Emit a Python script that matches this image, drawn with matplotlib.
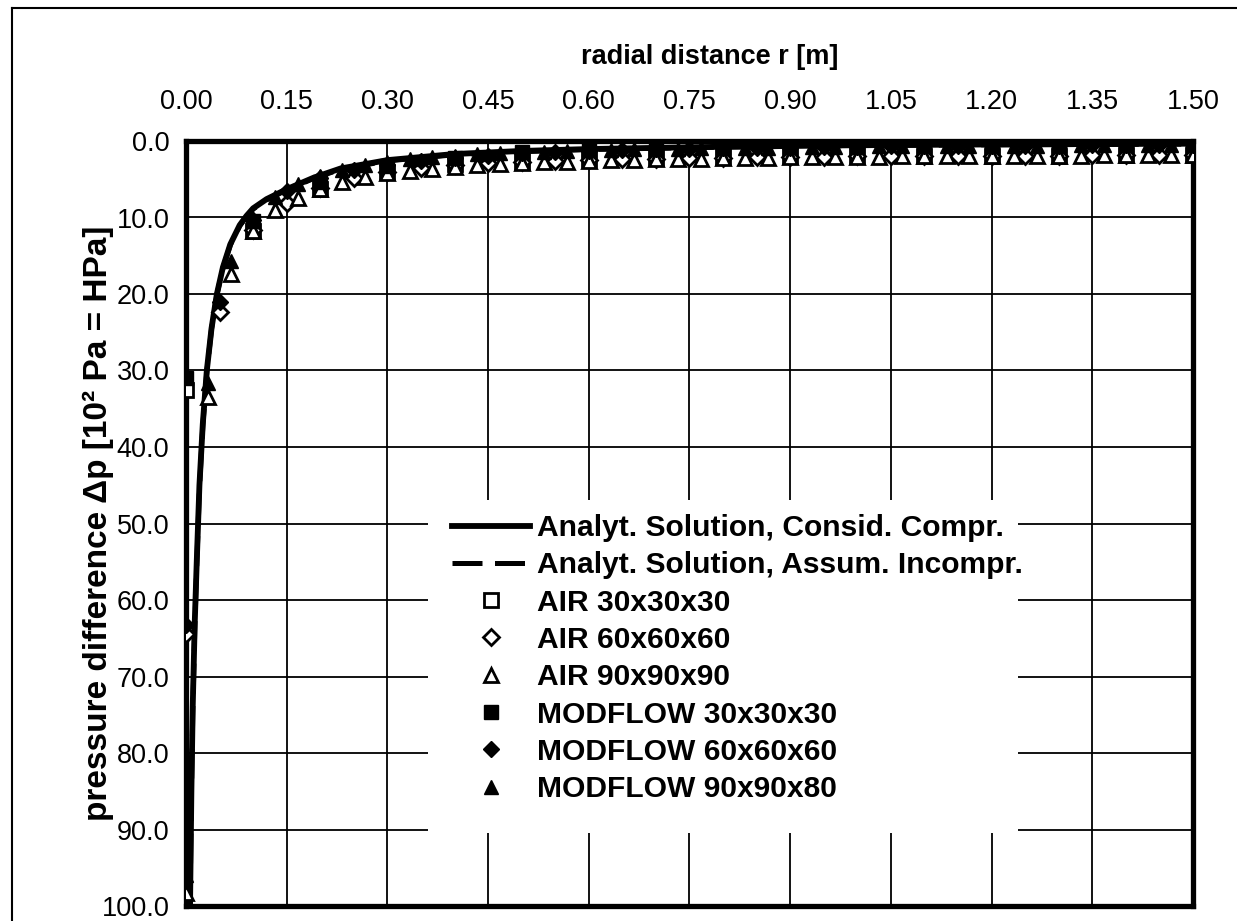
import matplotlib
matplotlib.use('Agg')
import matplotlib.pyplot as plt
from matplotlib.lines import Line2D
from matplotlib.patches import Rectangle

plt.rcParams['font.family'] = ['Liberation Sans', 'DejaVu Sans']

# analytical solutions
r_ana = [0.006, 0.008, 0.01, 0.013, 0.016, 0.02, 0.025, 0.031, 0.038, 0.046,
         0.055, 0.066, 0.08, 0.09, 0.1, 0.12, 0.15, 0.19, 0.23, 0.3,
         0.4, 0.5, 0.6, 0.7, 0.8, 0.9, 1.0, 1.2, 1.5]
dp_compr = [100.0, 85.0, 74.0, 63.0, 55.0, 45.0, 37.0, 30.0, 24.5, 20.0,
            16.5, 13.5, 11.0, 9.8, 8.8, 7.6, 6.3, 4.8, 3.6, 2.5,
            1.7, 1.3, 1.05, 0.9, 0.75, 0.65, 0.55, 0.45, 0.35]
dp_incompr = [100.0, 86.0, 75.0, 64.0, 55.5, 45.5, 37.3, 30.2, 24.6, 20.1,
              16.6, 13.6, 11.1, 9.9, 8.9, 7.7, 6.4, 4.9, 3.7, 2.6,
              1.8, 1.4, 1.1, 0.95, 0.8, 0.7, 0.6, 0.5, 0.4]

# cell centres of the three grids
r_30 = [0.0, 0.1, 0.2, 0.3, 0.4, 0.5, 0.6, 0.7, 0.8, 0.9, 1.0, 1.1, 1.2, 1.3, 1.4, 1.5]
r_60 = [0.0, 0.05, 0.1, 0.15, 0.2, 0.25, 0.3, 0.35, 0.4, 0.45, 0.5, 0.55, 0.6, 0.65,
        0.7, 0.75, 0.8, 0.85, 0.9, 0.95, 1.0, 1.05, 1.1, 1.15, 1.2, 1.25, 1.3, 1.35,
        1.4, 1.45, 1.5]
r_90 = [0.0, 0.033, 0.067, 0.1, 0.133, 0.167, 0.2, 0.233, 0.267, 0.3, 0.333, 0.367,
        0.4, 0.433, 0.467, 0.5, 0.533, 0.567, 0.6, 0.633, 0.667, 0.7, 0.733, 0.767,
        0.8, 0.833, 0.867, 0.9, 0.933, 0.967, 1.0, 1.033, 1.067, 1.1, 1.133, 1.167,
        1.2, 1.233, 1.267, 1.3, 1.333, 1.367, 1.4, 1.433, 1.467, 1.5]

air_30 = [32.5, 11.8, 6.3, 4.0, 3.0, 2.7, 2.4, 2.2, 2.1, 2.0, 2.0, 1.9, 1.9, 1.9, 1.8, 1.8]
air_60 = [64.5, 22.4, 11.6, 8.1, 6.2, 4.8, 4.0, 3.5, 3.1, 2.9, 2.7, 2.6, 2.5, 2.4,
          2.3, 2.25, 2.2, 2.15, 2.1, 2.05, 2.0, 2.0, 1.95, 1.95, 1.9, 1.9, 1.9, 1.85,
          1.85, 1.8, 1.8]
air_90 = [98.3, 33.5, 17.4, 11.7, 9.0, 7.4, 6.3, 5.4, 4.7, 4.2, 3.9, 3.6, 3.4, 3.2,
          3.0, 2.9, 2.8, 2.7, 2.6, 2.5, 2.45, 2.4, 2.35, 2.3, 2.25, 2.2, 2.2, 2.15,
          2.1, 2.1, 2.05, 2.05, 2.0, 2.0, 2.0, 1.95, 1.95, 1.9, 1.9, 1.9, 1.9, 1.85,
          1.85, 1.85, 1.8, 1.8]
mod_30 = [31.0, 10.5, 5.3, 3.3, 2.2, 1.5, 1.2, 1.0, 0.9, 0.8, 0.7, 0.65, 0.6, 0.55, 0.5, 0.5]
mod_60 = [63.3, 21.0, 10.3, 6.6, 4.9, 3.8, 3.1, 2.6, 2.2, 1.9, 1.6, 1.4, 1.3, 1.2,
          1.1, 1.0, 0.95, 0.9, 0.85, 0.8, 0.75, 0.7, 0.7, 0.65, 0.65, 0.6, 0.6, 0.55,
          0.55, 0.5, 0.5]
mod_90 = [96.0, 31.6, 15.7, 10.2, 7.3, 5.6, 4.6, 3.8, 3.2, 2.8, 2.4, 2.1, 1.9, 1.7,
          1.6, 1.5, 1.4, 1.3, 1.2, 1.15, 1.1, 1.05, 1.0, 0.95, 0.9, 0.9, 0.85, 0.8,
          0.8, 0.75, 0.75, 0.7, 0.7, 0.7, 0.65, 0.65, 0.65, 0.6, 0.6, 0.6, 0.55, 0.55,
          0.55, 0.5, 0.5, 0.5]

x_ticks = [0.0, 0.15, 0.3, 0.45, 0.6, 0.75, 0.9, 1.05, 1.2, 1.35, 1.5]
y_ticks = [0, 10, 20, 30, 40, 50, 60, 70, 80, 90, 100]

W, H = 1237, 921
fig = plt.figure(figsize=(W / 100, H / 100), dpi=100)
ax = fig.add_axes([186 / W, 15 / H, 1007 / W, 765 / H])

ax.plot(r_ana, dp_incompr, color='black', lw=3.6, ls=(0, (6, 2.5)), zorder=3,
        label='Analyt. Solution, Assum. Incompr.')
ax.plot(r_ana, dp_compr, color='black', lw=4.2, zorder=3,
        label='Analyt. Solution, Consid. Compr.')

ms = 10.5
open_kw = dict(ls='none', mfc='white', mec='black', mew=2.0, zorder=4)
ax.plot(r_30, air_30, marker='s', ms=ms, label='AIR 30x30x30', **open_kw)
ax.plot(r_60, air_60, marker='D', ms=ms * 0.8, label='AIR 60x60x60', **open_kw)
ax.plot(r_90, air_90, marker='^', ms=ms, label='AIR 90x90x90', **open_kw)
fill_kw = dict(ls='none', color='black', zorder=5)
ax.plot(r_30, mod_30, marker='s', ms=ms, label='MODFLOW 30x30x30', **fill_kw)
ax.plot(r_60, mod_60, marker='D', ms=ms * 0.8, label='MODFLOW 60x60x60', **fill_kw)
ax.plot(r_90, mod_90, marker='^', ms=ms, label='MODFLOW 90x90x80', **fill_kw)

ax.set_xlim(0, 1.5)
ax.set_ylim(100, 0)
ax.xaxis.tick_top()
ax.xaxis.set_label_position('top')
ax.set_xticks(x_ticks)
ax.set_xticklabels(['%.2f' % v for v in x_ticks], fontsize=19.5)
ax.set_yticks(y_ticks)
ax.set_yticklabels(['%.1f' % v for v in y_ticks], fontsize=19.5)
ax.tick_params(axis='x', length=0, pad=18.5)
ax.tick_params(axis='y', length=0, pad=12)
ax.grid(True, color='black', lw=1.3)
ax.set_axisbelow(True)
for s in ax.spines.values():
    s.set_linewidth(3.8)

ax.set_xlabel('radial distance r [m]', fontsize=19.5, fontweight='bold')
ax.xaxis.set_label_coords(0.52, 1.101)
ax.set_ylabel('pressure difference \u0394p [10\u00b2 Pa = HPa]', fontsize=24,
              fontweight='bold')
ax.yaxis.set_label_coords(-0.0715, 0.5)

# white box behind the legend, covering the grid
ax.add_patch(Rectangle((428 / W, 1 - 833 / H), 590 / W, 333 / H,
                       transform=fig.transFigure, facecolor='white',
                       edgecolor='none', zorder=9, clip_on=False))

# legend order: analytical lines first, then the grids
handles, labels = ax.get_legend_handles_labels()
order = [1, 0, 2, 3, 4, 5, 6, 7]
leg = ax.legend([handles[i] for i in order], [labels[i] for i in order],
                loc='upper left', bbox_to_anchor=(452 / W, 1 - 514 / H),
                bbox_transform=fig.transFigure, prop={'weight': 'bold', 'size': 21.6},
                frameon=False, handlelength=2.6, handletextpad=0.23,
                labelspacing=0.31, borderpad=0, borderaxespad=0)
leg.set_zorder(10)

# outer frame of the page
fig.add_artist(Line2D([12 / W, 12 / W], [0, 1 - 8 / H], color='black', lw=1.5))
fig.add_artist(Line2D([12 / W, 1], [1 - 8 / H, 1 - 8 / H], color='black', lw=1.5))

fig.savefig('out.png', dpi=100)
